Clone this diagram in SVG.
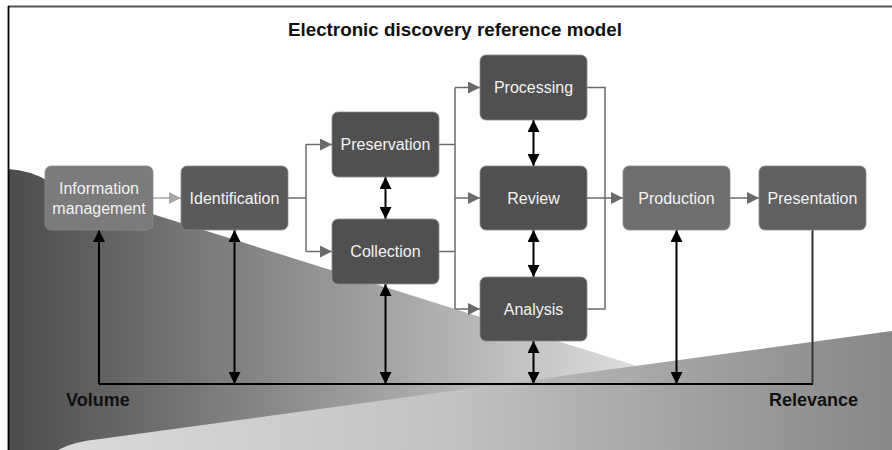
<svg xmlns="http://www.w3.org/2000/svg" width="892" height="450" viewBox="0 0 892 450">
<style>
.box{stroke:#8c8c8c;stroke-width:0.8}
.lbl{font-family:"Liberation Sans",Arial,sans-serif;font-size:16px;fill:#f2f2f2;text-anchor:middle}
.big{font-family:"Liberation Sans",Arial,sans-serif;font-size:18px;font-weight:bold;fill:#111}
.gl{fill:none;stroke:#6a6a6a;stroke-width:1.5}
.bl{fill:none;stroke:#000;stroke-width:2}
</style>
<defs>
<linearGradient id="g1" gradientUnits="userSpaceOnUse" x1="8" y1="0" x2="640" y2="0">
<stop offset="0" stop-color="#4c4c4c"/>
<stop offset="1" stop-color="#dedede"/>
</linearGradient>
<linearGradient id="g2" gradientUnits="userSpaceOnUse" x1="60" y1="0" x2="892" y2="0">
<stop offset="0" stop-color="#dbdbdb"/>
<stop offset="0.47" stop-color="#c2c2c2"/>
<stop offset="1" stop-color="#878787"/>
</linearGradient>
<marker id="ag" markerUnits="userSpaceOnUse" markerWidth="12" markerHeight="12" refX="12" refY="6" orient="auto">
<path d="M0,0 L12,6 L0,12 Z" fill="#6a6a6a"/>
</marker>
<marker id="al" markerUnits="userSpaceOnUse" markerWidth="12" markerHeight="12" refX="12" refY="6" orient="auto">
<path d="M0,0 L12,6 L0,12 Z" fill="#a8a8a8"/>
</marker>
<marker id="ab" markerUnits="userSpaceOnUse" markerWidth="12" markerHeight="12" refX="12" refY="6" orient="auto-start-reverse">
<path d="M0,0 L12,6 L0,12 Z" fill="#000"/>
</marker>
</defs>
<rect x="0" y="0" width="892" height="450" fill="#fff"/>
<g id="background">
<path d="M8,169 Q30,170 50,182 L892,446 L892,450 L8,450 Z" fill="url(#g1)"/>
<path d="M58,450 Q75,441 100,439 L892,331 L892,450 Z" fill="url(#g2)"/>
</g>
<line x1="8" y1="6.5" x2="892" y2="6.5" stroke="#555" stroke-width="1.8"/>
<line x1="8.5" y1="6" x2="8.5" y2="450" stroke="#000" stroke-width="1.8"/>
<text class="big" x="455" y="36" text-anchor="middle" style="font-size:18.8px">Electronic discovery reference model</text>
<g id="connectors">
<path class="gl" d="M153,198 H181" style="stroke:#a8a8a8" marker-end="url(#al)"/>
<path class="gl" d="M288,198 H306"/>
<path class="gl" d="M306,144.5 V251.5"/>
<path class="gl" d="M306,144.5 H332" marker-end="url(#ag)"/>
<path class="gl" d="M306,251.5 H332" marker-end="url(#ag)"/>
<path class="gl" d="M439,144.5 H455"/>
<path class="gl" d="M439,251.5 H455"/>
<path class="gl" d="M455,87.5 V309"/>
<path class="gl" d="M455,87.5 H480" marker-end="url(#ag)"/>
<path class="gl" d="M455,198 H480" marker-end="url(#ag)"/>
<path class="gl" d="M455,309 H480" marker-end="url(#ag)"/>
<path class="gl" d="M587,87.5 H605 V309 H587"/>
<path class="gl" d="M587,198 H623" marker-end="url(#ag)"/>
<path class="gl" d="M730,198 H759" marker-end="url(#ag)"/>
<path class="bl" d="M99,384 H813"/>
<path class="bl" d="M99,384 V230" marker-end="url(#ab)"/>
<path d="M812.5,230 V384" fill="none" stroke="#333" stroke-width="2"/>
<path class="bl" d="M234.5,230 V384" marker-start="url(#ab)" marker-end="url(#ab)"/>
<path class="bl" d="M385.5,284 V384" marker-start="url(#ab)" marker-end="url(#ab)"/>
<path class="bl" d="M533.5,341 V384" marker-start="url(#ab)" marker-end="url(#ab)"/>
<path class="bl" d="M676.5,230 V384" marker-start="url(#ab)" marker-end="url(#ab)"/>
<path class="bl" d="M385.5,177 V219" marker-start="url(#ab)" marker-end="url(#ab)"/>
<path class="bl" d="M533.5,120 V166" marker-start="url(#ab)" marker-end="url(#ab)"/>
<path class="bl" d="M533.5,230 V277" marker-start="url(#ab)" marker-end="url(#ab)"/>
</g>
<g id="information-management">
<rect class="box" x="45" y="166" width="108" height="64" rx="6" fill="#7b7b7b"/>
<text class="lbl" x="99" y="193.5">Information</text>
<text class="lbl" x="99" y="213.5">management</text>
</g>
<g id="identification">
<rect class="box" x="181" y="166" width="107" height="64" rx="6" fill="#5a5a5a"/>
<text class="lbl" x="234.5" y="203.5">Identification</text>
</g>
<g id="preservation">
<rect class="box" x="332" y="112" width="107" height="65" rx="6" fill="#505050"/>
<text class="lbl" x="385.5" y="150">Preservation</text>
</g>
<g id="collection">
<rect class="box" x="332" y="219" width="107" height="65" rx="6" fill="#505050"/>
<text class="lbl" x="385.5" y="257">Collection</text>
</g>
<g id="processing">
<rect class="box" x="480" y="55" width="107" height="65" rx="6" fill="#505050"/>
<text class="lbl" x="533.5" y="93">Processing</text>
</g>
<g id="review">
<rect class="box" x="480" y="166" width="107" height="64" rx="6" fill="#505050"/>
<text class="lbl" x="533.5" y="203.5">Review</text>
</g>
<g id="analysis">
<rect class="box" x="480" y="277" width="107" height="64" rx="6" fill="#505050"/>
<text class="lbl" x="533.5" y="314.5">Analysis</text>
</g>
<g id="production">
<rect class="box" x="623" y="166" width="107" height="64" rx="6" fill="#6e6e6e"/>
<text class="lbl" x="676.5" y="203.5">Production</text>
</g>
<g id="presentation">
<rect class="box" x="759" y="166" width="107" height="64" rx="6" fill="#606060"/>
<text class="lbl" x="812.5" y="203.5">Presentation</text>
</g>
<text class="big" x="66" y="406">Volume</text>
<text class="big" x="858" y="406" text-anchor="end">Relevance</text>
</svg>
